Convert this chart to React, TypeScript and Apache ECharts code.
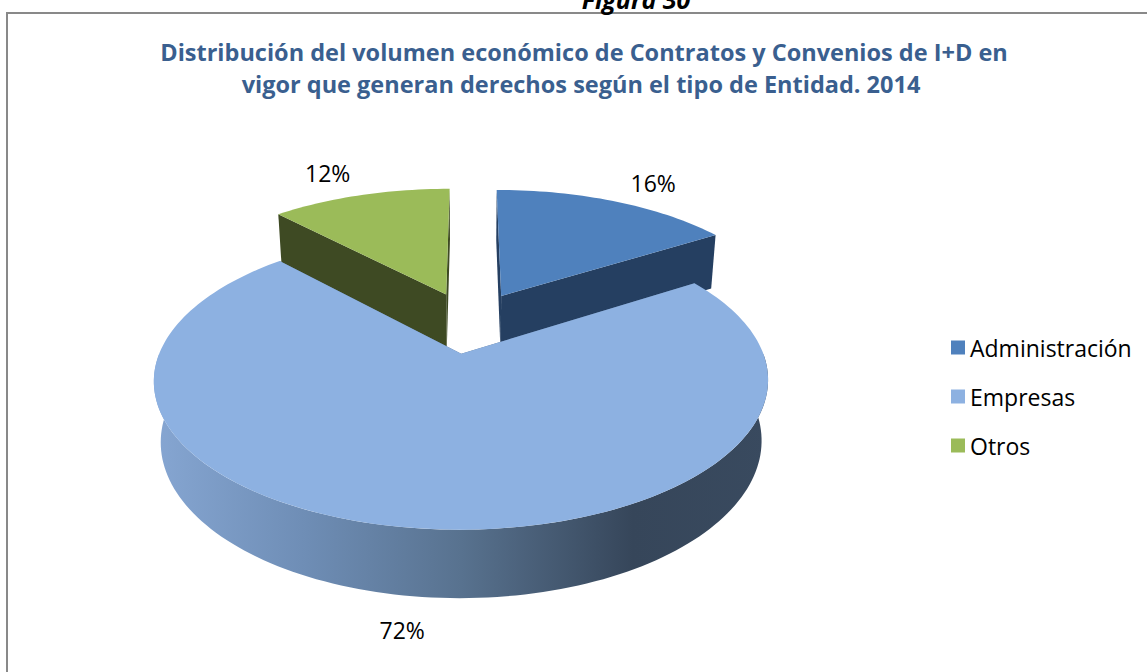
import React, { useEffect, useRef } from "react";
import * as echarts from "echarts";

// ---- data ----
const categories = ["Administración", "Empresas", "Otros"];
const values = [16, 72, 12];
const titleLines = [
  "Distribución del volumen económico de Contratos y Convenios de I+D en",
  "vigor que generan derechos según el tipo de Entidad. 2014",
];
const captionText = "Figura 30";

// ---- styles ----
const TOP = ["#4F81BD", "#8DB1E1", "#9BBB59"];
const CUT = ["#253F61", "#5B7594", "#3E4A23"];
const FONT = "'Open Sans', 'Noto Sans', sans-serif";

// ---- 3D projection layout ----
const CX = 470;
const CY = 322;
const R = 290;
const EXPLODE = 67;
const H = 67;
const SIN = 0.458;
const COS = 0.889;
const F = 1482;

function project(u: number, v: number, h: number): number[] {
  const Y = v * SIN + h * COS;
  const Z = v * COS - h * SIN;
  const k = F / (F + Z);
  return [CX + u * k, CY - Y * k];
}

const total = values.reduce((a, b) => a + b, 0);
const starts: number[] = [];
values.reduce((acc, v, i) => {
  starts[i] = acc;
  return acc + v;
}, 0);

function wallFill(i: number): any {
  if (i === 1) {
    return new echarts.graphic.LinearGradient(0, 0, 1, 0, [
      { offset: 0, color: "#86A6D2" },
      { offset: 0.25, color: "#6E8DB5" },
      { offset: 0.5, color: "#58728F" },
      { offset: 0.78, color: "#36465A" },
      { offset: 1, color: "#394A5F" },
    ]);
  }
  return CUT[i];
}

const TWO_PI = Math.PI * 2;

function makeRender(i: number) {
  return (params: any, api: any) => {
    const start = api.value(0) as number;
    const val = api.value(1) as number;
    const a0 = (start / total) * TWO_PI;
    const a1 = ((start + val) / total) * TWO_PI;
    const mid = (a0 + a1) / 2;
    const ou = EXPLODE * Math.sin(mid);
    const ov = EXPLODE * Math.cos(mid);
    const edge = (a: number, h: number) =>
      project(ou + R * Math.sin(a), ov + R * Math.cos(a), h);
    const arc = (b0: number, b1: number, h: number) => {
      const n = Math.max(2, Math.ceil(((b1 - b0) / TWO_PI) * 240));
      const pts: number[][] = [];
      for (let j = 0; j <= n; j++) pts.push(edge(b0 + ((b1 - b0) * j) / n, h));
      return pts;
    };
    const children: any[] = [];
    // outer wall (front half only)
    const w0 = Math.max(a0, Math.PI / 2);
    const w1 = Math.min(a1, (3 * Math.PI) / 2);
    if (w1 > w0) {
      children.push({
        type: "polygon",
        shape: { points: [...arc(w0, w1, 0), ...arc(w0, w1, -H).reverse()] },
        style: { fill: wallFill(i) },
      });
    }
    // radial cut faces
    [a0, a1].forEach((a) => {
      children.push({
        type: "polygon",
        shape: {
          points: [project(ou, ov, 0), edge(a, 0), edge(a, -H), project(ou, ov, -H)],
        },
        style: { fill: CUT[i] },
      });
    });
    // top face
    children.push({
      type: "polygon",
      shape: { points: [project(ou, ov, 0), ...arc(a0, a1, 0)] },
      style: { fill: TOP[i] },
    });
    // label
    const back = Math.cos(mid) >= 0;
    const lh = back ? 0 : -H;
    const anchor = edge(mid, lh);
    const cen = project(0, 0, lh);
    let dx = anchor[0] - cen[0];
    let dy = anchor[1] - cen[1];
    const len = Math.sqrt(dx * dx + dy * dy) || 1;
    dx /= len;
    dy /= len;
    const gy = back ? 29 : 35;
    children.push({
      type: "text",
      style: {
        text: Math.round((val / total) * 100) + "%",
        x: anchor[0] + dx * 50,
        y: anchor[1] + dy * gy,
        fill: "#000000",
        fontSize: 23,
        fontFamily: FONT,
        align: "center",
        verticalAlign: "middle",
      },
    });
    return { type: "group", children };
  };
}

export default function App() {
  const ref = useRef<HTMLDivElement>(null);
  useEffect(() => {
    document.body.style.margin = "0";
    if (!ref.current) return;
    const chart = echarts.init(ref.current, undefined, { renderer: "svg" });
    chart.setOption({
      animation: false,
      backgroundColor: "#ffffff",
      legend: {
        data: categories,
        orient: "vertical",
        left: 946,
        top: 331,
        itemWidth: 14,
        itemHeight: 14,
        itemGap: 26,
        icon: "rect",
        selectedMode: false,
        textStyle: { fontSize: 23, fontFamily: FONT, color: "#000000", lineHeight: 22 },
      },
      graphic: [
        {
          type: "rect",
          shape: { x: 7, y: 13, width: 1180, height: 720 },
          style: { fill: "none", stroke: "#898989", lineWidth: 2 },
          silent: true,
        },
        {
          type: "text",
          x: 636,
          y: -1,
          style: {
            text: captionText,
            fontSize: 25,
            fontWeight: "bold",
            fontStyle: "italic",
            fontFamily: FONT,
            fill: "#000000",
            align: "center",
            verticalAlign: "middle",
          },
          silent: true,
        },
        {
          type: "text",
          x: 584,
          y: 52,
          style: {
            text: titleLines[0],
            fontSize: 23.5,
            fontWeight: "bold",
            fontFamily: FONT,
            fill: "#3A5F8F",
            align: "center",
            verticalAlign: "middle",
          },
          silent: true,
        },
        {
          type: "text",
          x: 581,
          y: 84,
          style: {
            text: titleLines[1],
            fontSize: 23.5,
            fontWeight: "bold",
            fontFamily: FONT,
            fill: "#3A5F8F",
            align: "center",
            verticalAlign: "middle",
          },
          silent: true,
        },
      ],
      series: categories.map((name, i) => ({
        type: "custom",
        name,
        coordinateSystem: "none",
        renderItem: makeRender(i),
        data: [[starts[i], values[i]]],
        itemStyle: { color: TOP[i] },
        z: i === 1 ? 3 : 2,
        silent: true,
      })),
    });
    return () => chart.dispose();
  }, []);
  return <div ref={ref} style={{ width: 1147, height: 672 }} />;
}
